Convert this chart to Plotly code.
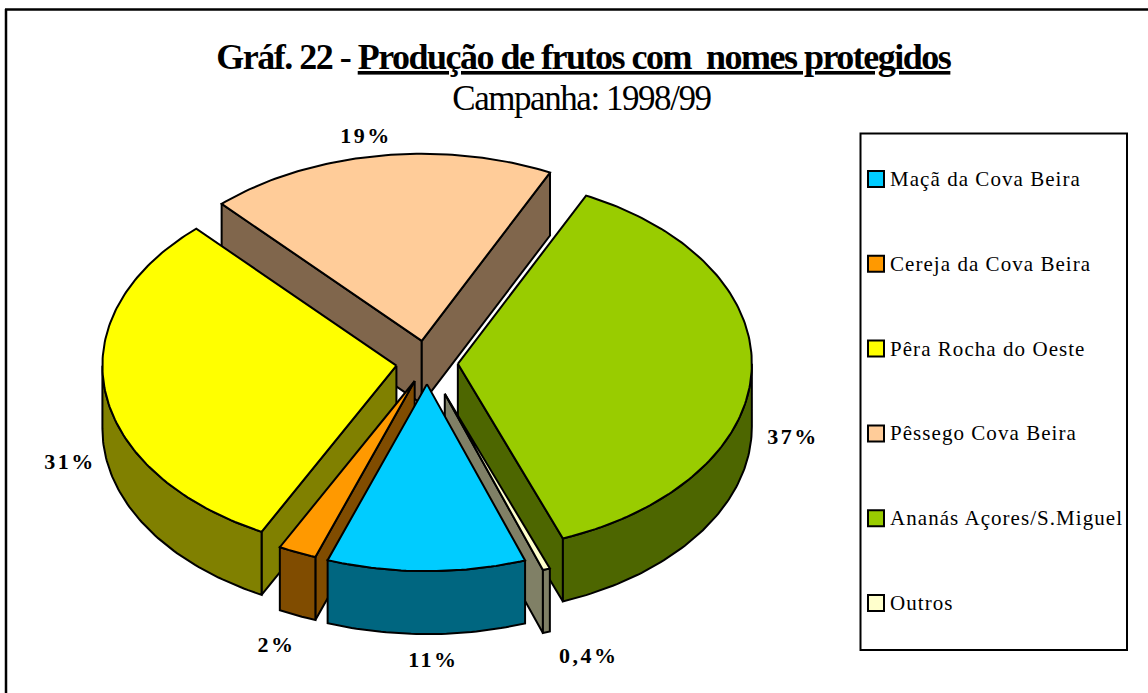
import numpy as np
import plotly.graph_objects as go

# ---- data ----
categories = ["Maçã da Cova Beira", "Cereja da Cova Beira", "Pêra Rocha do Oeste",
              "Pêssego Cova Beira", "Ananás Açores/S.Miguel", "Outros"]
values = [10.9, 2.1, 30.5, 19.1, 37.0, 0.4]
value_labels = ["11%", "2%", "31%", "19%", "37%", "0,4%"]
title_bold = "Gráf. 22 - "
title_underlined = "Produção de frutos com\u00a0\u00a0nomes protegidos"
subtitle = "Campanha: 1998/99"

# ---- styles ----
top_colors = ["#00CCFF", "#FF9900", "#FFFF00", "#FFCC99", "#99CC00", "#FFFFCC"]
side_colors = ["#006680", "#804C00", "#808000", "#80664C", "#4D6600", "#808066"]
explode = [0.113, 0.105, 0.105, 0.12, 0.105, 0.175]
CX, CY, RX, RY, DEPTH = 427, 363, 294, 187, 63
START_ANGLE = 160.5
draw_order = [3, 4, 2, 5, 1, 0]
label_pos = [(433.5, 659), (276.5, 644), (69.5, 461), (365.5, 135), (792.5, 436), (588.5, 655)]
FONT = "Liberation Serif"
INK = "#000000"
LW = 2

# ---- geometry derived from the values ----
sweeps = np.array(values) / sum(values) * 360
starts = START_ANGLE + np.concatenate([[0], np.cumsum(sweeps)[:-1]])


def poly(fig, xs, ys, color):
    fig.add_trace(go.Scatter(x=list(xs), y=list(ys), mode="lines", fill="toself",
                             fillcolor=color, line=dict(color=INK, width=LW),
                             hoverinfo="skip", showlegend=False))


fig = go.Figure()
for i in draw_order:
    a0, a1 = starts[i], starts[i] + sweeps[i]
    mid = np.radians((a0 + a1) / 2)
    ax = CX + explode[i] * RX * np.sin(mid)
    ay = CY - explode[i] * RY * np.cos(mid)
    th = np.radians(np.linspace(a0, a1, max(int(sweeps[i]), 2) + 2))
    ex = ax + RX * np.sin(th)
    ey = ay - RY * np.cos(th)
    # radial cut faces, only those that face the viewer
    if np.sin(th[0]) < 0:
        poly(fig, [ax, ex[0], ex[0], ax, ax], [ay, ey[0], ey[0] + DEPTH, ay + DEPTH, ay], side_colors[i])
    if np.sin(th[-1]) > 0:
        poly(fig, [ax, ex[-1], ex[-1], ax, ax], [ay, ey[-1], ey[-1] + DEPTH, ay + DEPTH, ay], side_colors[i])
    # outer wall: only the part facing the viewer
    for lo, hi in ((90, 270), (450, 630)):
        l, h = max(a0, lo), min(a1, hi)
        if h > l:
            t = np.radians(np.linspace(l, h, max(int(h - l), 2) + 2))
            wx = ax + RX * np.sin(t)
            wy = ay - RY * np.cos(t)
            poly(fig, np.r_[wx, wx[::-1], wx[0]], np.r_[wy, wy[::-1] + DEPTH, wy[0]], side_colors[i])
    # top face
    poly(fig, np.r_[ax, ex, ax], np.r_[ay, ey, ay], top_colors[i])

# ---- legend box (swatches + text) ----
LEG_X, LEG_Y0, LEG_DY = 876, 179, 84.8
fig.add_trace(go.Scatter(
    x=[LEG_X] * len(categories), y=[LEG_Y0 + k * LEG_DY for k in range(len(categories))],
    mode="markers", hoverinfo="skip", showlegend=False,
    marker=dict(symbol="square", size=16, color=top_colors, line=dict(color=INK, width=2))))

annotations = []
for k, name in enumerate(categories):
    annotations.append(dict(x=888.5, y=LEG_Y0 + k * LEG_DY, text=name, showarrow=False,
                            xanchor="left", yanchor="middle", xref="x", yref="y",
                            width=240, align="left", borderpad=0,
                            font=dict(family=FONT, size=21, color=INK)))
for lab, (x, y) in zip(value_labels, label_pos):
    annotations.append(dict(x=x, y=y, text=f"<b>{lab}</b>", showarrow=False, xref="x", yref="y",
                            xanchor="center", yanchor="middle",
                            font=dict(family=FONT, size=22, color=INK)))
annotations.append(dict(x=583, y=57, text=f"<b>{title_bold}<u>{title_underlined}</u></b>",
                        showarrow=False, xref="x", yref="y", xanchor="center", yanchor="middle",
                        font=dict(family=FONT, size=36, color=INK)))
annotations.append(dict(x=581, y=98, text=subtitle, showarrow=False, xref="x", yref="y",
                        xanchor="center", yanchor="middle",
                        font=dict(family=FONT, size=35, color=INK)))

shapes = [
    dict(type="rect", x0=860.5, x1=1127, y0=133.5, y1=650, xref="x", yref="y",
         line=dict(color=INK, width=2), layer="below"),
    dict(type="line", x0=5, x1=1148, y0=9.5, y1=9.5, xref="x", yref="y",
         line=dict(color=INK, width=2.5)),
    dict(type="line", x0=6, x1=6, y0=9, y1=693, xref="x", yref="y",
         line=dict(color=INK, width=2.5)),
]

fig.update_layout(
    width=1148, height=693, margin=dict(l=0, r=0, t=0, b=0),
    paper_bgcolor="white", plot_bgcolor="white", showlegend=False,
    xaxis=dict(range=[0, 1148], visible=False, fixedrange=True),
    yaxis=dict(range=[693, 0], visible=False, fixedrange=True),
    annotations=annotations, shapes=shapes,
)
fig.write_html("out.html", config=dict(displayModeBar=False), post_script="""
document.body.style.margin='0';
document.querySelectorAll('.annotation-text').forEach(function(t){
  var s=t.textContent;
  if(s.indexOf('%')>=0){t.style.letterSpacing='2.5px';}
  else if(s.indexOf('Gr')===0){t.style.letterSpacing='-1.5px';
    t.querySelectorAll('tspan').forEach(function(u){u.style.textDecorationThickness='3.5px';});}
  else if(s.indexOf('Campanha')===0){t.style.letterSpacing='-1.45px';}
  else {t.style.letterSpacing='1.05px';}
});
""")
